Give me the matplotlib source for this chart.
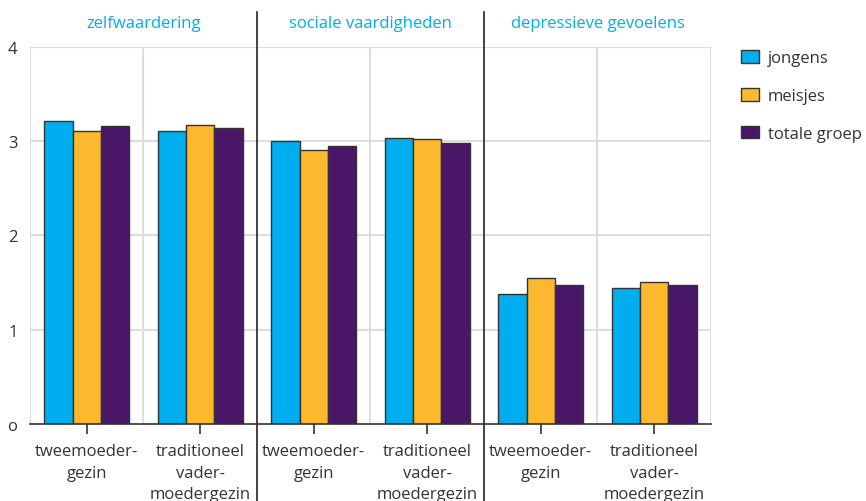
import matplotlib
matplotlib.use("Agg")
import matplotlib.pyplot as plt
from matplotlib.patches import Patch
import numpy as np

plt.rcParams['font.family'] = ['Open Sans', 'DejaVu Sans']

categories = ["tweemoeder-\ngezin", "traditioneel\nvader-\nmoedergezin"] * 3
groups = ["zelfwaardering", "sociale vaardigheden", "depressieve gevoelens"]
series = ["jongens", "meisjes", "totale groep"]
jongens = [3.21, 3.11, 3.00, 3.03, 1.38, 1.44]
meisjes = [3.11, 3.17, 2.90, 3.02, 1.55, 1.51]
totale_groep = [3.16, 3.14, 2.95, 2.98, 1.47, 1.47]
yticks = [0, 1, 2, 3, 4]
ytick_labels = ["o", "1", "2", "3", "4"]

colors = ["#00AEEF", "#FDB92E", "#4A1768"]
edge = "#333333"
title_color = "#00AEEF"
text_color = "#333333"

W, H = 866, 502
fig = plt.figure(figsize=(W / 100, H / 100), dpi=100)
left, right, top, bottom = 30, 711, 47.7, 425
ax = fig.add_axes([left / W, 1 - bottom / H, (right - left) / W, (bottom - top) / H])

x = np.arange(len(categories))
bw = 0.25
for i, (vals, c, name) in enumerate(zip([jongens, meisjes, totale_groep], colors, series)):
    ax.bar(x + (i - 1) * bw, vals, width=bw, color=c, edgecolor=edge, linewidth=1.0, zorder=3, label=name)

ax.set_xlim(-0.5, len(categories) - 0.5)
ax.set_ylim(0, 4)

for yv in yticks[1:]:
    ax.axhline(yv, color="#DDDDDD", linewidth=1.5, zorder=1)
for xv in [-0.5, 0.5, 2.5, 4.5, 5.5]:
    ax.axvline(xv, color="#DDDDDD", linewidth=1.5, zorder=1)
ah = bottom - top
for xv in [1.5, 3.5]:
    ax.axvline(xv, ymin=-(H - bottom) / ah, ymax=(bottom - 13) / ah, color="#222222",
               linewidth=1.2, zorder=4, clip_on=False)

for s in ["top", "right", "left"]:
    ax.spines[s].set_visible(False)
ax.spines["bottom"].set_color("#333333")
ax.spines["bottom"].set_linewidth(1.2)
ax.spines["bottom"].set_zorder(5)

ax.set_yticks(yticks)
ax.set_yticklabels(ytick_labels, fontsize=12, color=text_color)
ax.tick_params(axis="y", length=0, pad=9)
ax.set_xticks(x)
ax.set_xticklabels(categories, fontsize=12, color=text_color, linespacing=1.45)
ax.tick_params(axis="x", length=7, width=1.2, color="#333333", pad=7)

for gi, g in enumerate(groups):
    ax.text(gi * 2 + 0.5, (bottom - 24) / ah, g, transform=ax.get_xaxis_transform(),
            ha="center", va="center", fontsize=12, color=title_color)

handles = [Patch(facecolor=c, edgecolor=edge, linewidth=1.0) for c in colors]
fig.legend(handles, series, loc="upper left", bbox_to_anchor=(726 / W, 1 - 36 / H),
           frameon=False, fontsize=12, handlelength=1.1, handleheight=0.8,
           labelspacing=1.3, handletextpad=0.5, labelcolor=text_color)

fig.savefig("out.png", dpi=100)
